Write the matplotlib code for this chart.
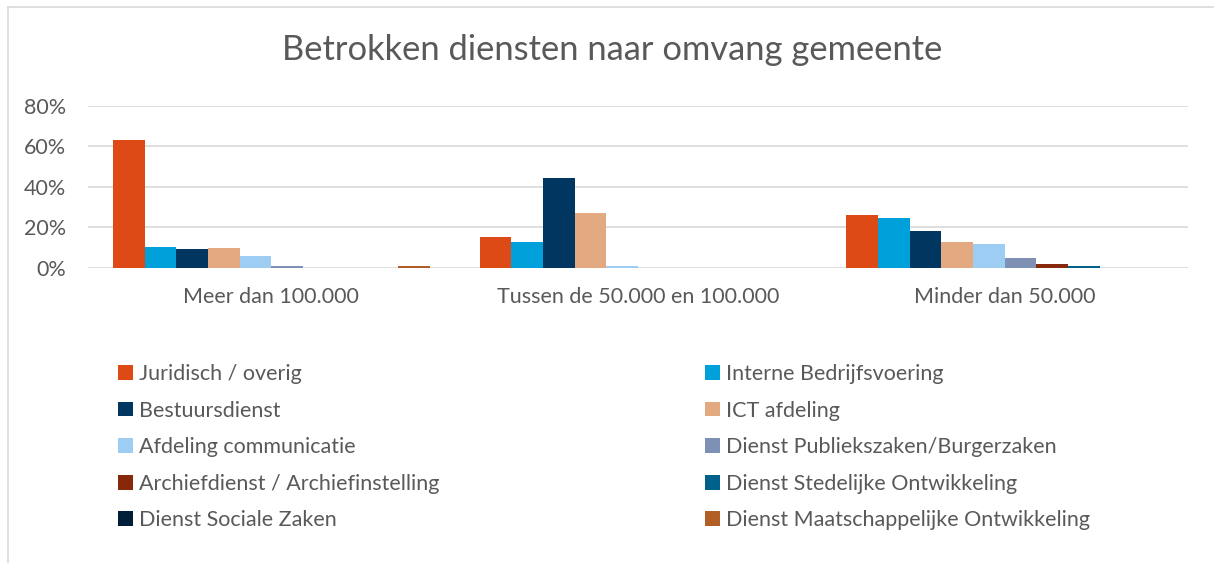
import matplotlib.pyplot as plt
from matplotlib.lines import Line2D
import numpy as np

plt.rcParams['font.family'] = ['Lato', 'DejaVu Sans']

# categories and series
categories = ['Meer dan 100.000', 'Tussen de 50.000 en 100.000', 'Minder dan 50.000']
series_names = ['Juridisch / overig', 'Interne Bedrijfsvoering', 'Bestuursdienst', 'ICT afdeling',
                'Afdeling communicatie', 'Dienst Publiekszaken/Burgerzaken',
                'Archiefdienst / Archiefinstelling', 'Dienst Stedelijke Ontwikkeling',
                'Dienst Sociale Zaken', 'Dienst Maatschappelijke Ontwikkeling']
# percent per series, one value per category
juridisch = [63.1, 15.1, 26.0]
interne = [10.3, 12.5, 24.4]
bestuurs = [9.2, 44.3, 18.2]
ict = [9.8, 27.0, 12.5]
communicatie = [5.7, 0.7, 11.5]
publiekszaken = [0.9, 0.0, 4.6]
archief = [0.0, 0.0, 1.9]
stedelijke = [0.0, 0.0, 0.9]
sociale = [0.0, 0.0, 0.0]
maatschappelijk = [0.9, 0.0, 0.0]
values = [juridisch, interne, bestuurs, ict, communicatie, publiekszaken,
          archief, stedelijke, sociale, maatschappelijk]
colors = ['#DE4A16', '#00A0DA', '#00365F', '#E3AA82', '#9DCDF2', '#7E91B5',
          '#87280B', '#00618A', '#001E38', '#B35E26']

text_col = '#595959'
grid_col = '#D9D9D9'

fig = plt.figure(figsize=(12.14, 5.63), dpi=100)
ax = fig.add_axes([88/1214, 1-267.5/563, 1100/1214, 161.5/563])

n = len(values)
gap = 1.57
width = 1.0 / (n + gap)
x = np.arange(len(categories))
handles = []
for i, (vals, c) in enumerate(zip(values, colors)):
    offs = (i - (n - 1) / 2) * width
    b = ax.bar(x + offs, vals, width, color=c, label=series_names[i], zorder=3)
    handles.append(b)

ax.set_xlim(-0.5, len(categories) - 0.5)
ax.set_ylim(0, 80)
ax.set_yticks([0, 20, 40, 60, 80])
ax.set_yticklabels([f'{v}%' for v in [0, 20, 40, 60, 80]])
ax.set_xticks(x)
ax.set_xticklabels(categories)
ax.grid(axis='y', color=grid_col, lw=1.2, zorder=0)
for s in ax.spines.values():
    s.set_visible(False)
ax.tick_params(length=0, colors=text_col, labelsize=15.5)
ax.tick_params(axis='x', pad=14)
ax.tick_params(axis='y', pad=16)

fig.text(612/1214, 1-50/563, 'Betrokken diensten naar omvang gemeente', ha='center', va='center',
         fontsize=24.8, color=text_col)

leg_kw = dict(frameon=False, fontsize=15.5, handlelength=0.68, handleheight=0.68,
              handletextpad=0.3, labelspacing=0.77, labelcolor=text_col, borderaxespad=0, borderpad=0)
leg1 = fig.legend([handles[i] for i in range(0, n, 2)], [series_names[i] for i in range(0, n, 2)],
                  loc='upper left', bbox_to_anchor=(118/1214, 1-364/563), **leg_kw)
leg2 = fig.legend([handles[i] for i in range(1, n, 2)], [series_names[i] for i in range(1, n, 2)],
                  loc='upper left', bbox_to_anchor=(705/1214, 1-364/563), **leg_kw)

# chart border: only top and left visible
fig.add_artist(Line2D([8/1214, 1213/1214], [1-7/563, 1-7/563], color=grid_col, lw=1.2))
fig.add_artist(Line2D([8/1214, 8/1214], [1-7/563, 0], color=grid_col, lw=1.2))

fig.savefig('out.png', dpi=100)
